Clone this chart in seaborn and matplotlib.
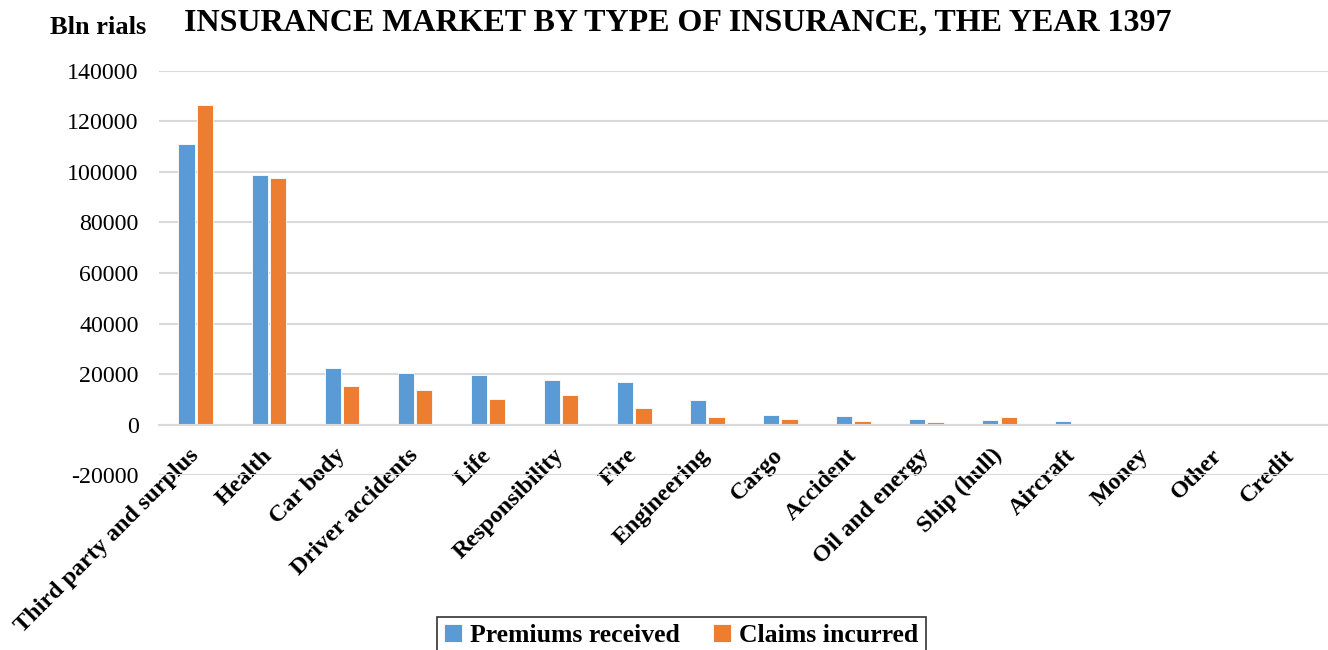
import matplotlib
matplotlib.use("Agg")
import matplotlib.pyplot as plt
import pandas as pd
import seaborn as sns

categories = ["Third party and surplus", "Health", "Car body", "Driver accidents",
              "Life", "Responsibility", "Fire", "Engineering", "Cargo", "Accident",
              "Oil and energy", "Ship (hull)", "Aircraft", "Money", "Other", "Credit"]
premiums = [111000, 98800, 22500, 20400, 19600, 17700, 16700, 9700, 3650, 3350,
            2400, 1750, 1500, 60, 40, 30]
claims = [126600, 97500, 15200, 13800, 10100, 11800, 6450, 2950, 2150, 1350,
          950, 2950, 200, 20, 10, 10]
series = ["Premiums received", "Claims incurred"]
yticks = list(range(-20000, 140001, 20000))

df = pd.DataFrame({
    "type": categories * 2,
    "value": premiums + claims,
    "series": [series[0]] * len(categories) + [series[1]] * len(categories),
})

sns.set_style("white")
plt.rcParams["font.family"] = ["Liberation Serif", "DejaVu Serif"]
plt.rcParams["text.color"] = "black"
plt.rcParams["xtick.color"] = "black"
plt.rcParams["ytick.color"] = "black"

fig = plt.figure(figsize=(13.28, 6.5), dpi=100)
ax = fig.add_axes([0.12, 0.269, 0.88, 0.622])

sns.barplot(data=df, x="type", y="value", hue="series", order=categories,
            hue_order=series, palette=["#5B9BD5", "#ED7D31"], saturation=1,
            width=0.51, gap=0.13, edgecolor="white", linewidth=0.6, ax=ax)

ax.set_ylim(-20000, 140000)
ax.set_yticks(yticks)
ax.set_yticklabels([str(v) for v in yticks], fontsize=17.2)
ax.grid(axis="y", color="#d9d9d9", linewidth=1.5)
ax.set_axisbelow(True)
for s in ["top", "right", "left"]:
    ax.spines[s].set_visible(False)
ax.spines["bottom"].set_position(("data", 0))
ax.spines["bottom"].set_color("#d9d9d9")
ax.spines["bottom"].set_linewidth(1.5)
ax.tick_params(axis="y", length=0, pad=15)
ax.tick_params(axis="x", length=0, pad=20)
ax.set_xticks(range(len(categories)))
ax.set_xticklabels(categories, rotation=45, ha="right", va="center",
                   rotation_mode="anchor", fontsize=17.4, fontweight="bold")
ax.set_xlabel("")
ax.set_ylabel("")
ax.set_xlim(-0.5, len(categories) - 0.5)

fig.text(0.038, 0.957, "Bln rials", fontsize=19, fontweight="bold", va="center")
fig.text(0.510, 0.965, "INSURANCE MARKET BY TYPE OF INSURANCE, THE YEAR 1397",
         fontsize=23, fontweight="bold", ha="center", va="center")

ax.legend(loc="upper center", bbox_to_anchor=(0.513, 0.071), bbox_transform=fig.transFigure,
          ncol=2, frameon=True, fancybox=False, edgecolor="black", handlelength=0.7,
          handleheight=0.7, handletextpad=0.3, columnspacing=1.3, borderpad=0.3,
          prop={"family": "Liberation Serif", "weight": "bold", "size": 18.5})
ax.get_legend().get_frame().set_linewidth(1.2)

fig.savefig("out.png", dpi=100)
